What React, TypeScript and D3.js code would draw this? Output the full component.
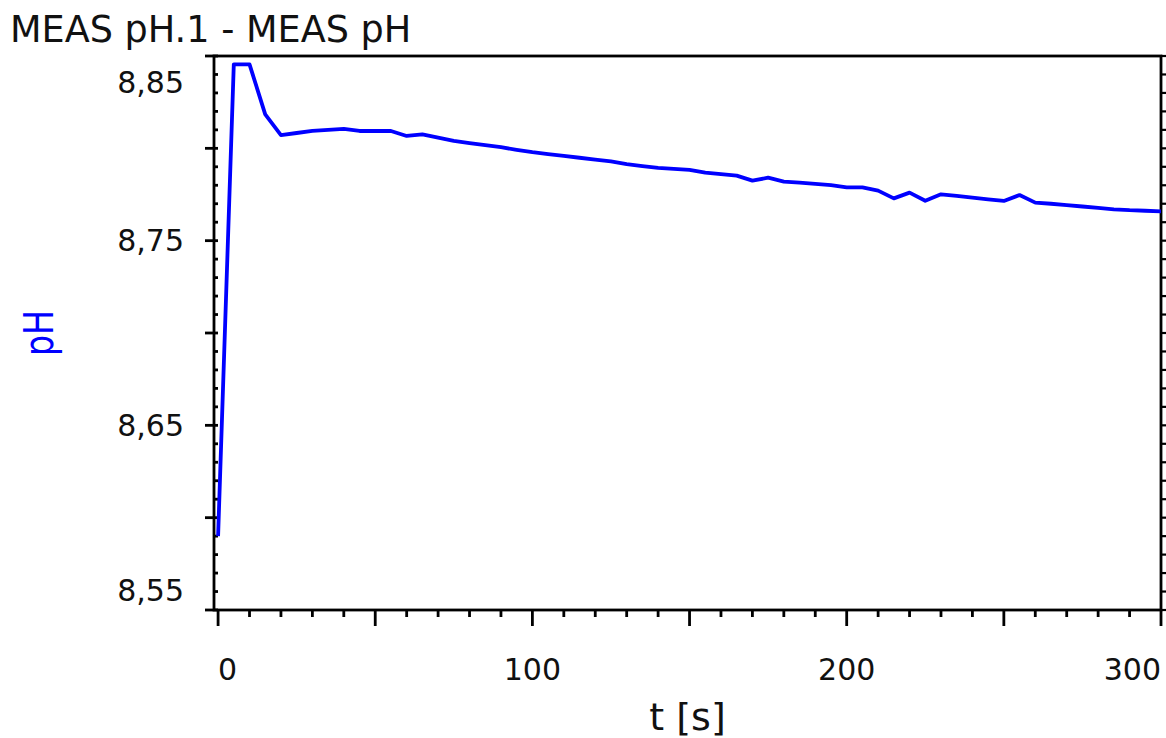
import React, { useEffect, useRef } from "react";
import * as d3 from "d3";

const times = [
  0, 5, 10, 15, 20, 25, 30, 35, 40, 45, 50, 55, 60, 65, 70, 75, 80, 85, 90, 95,
  100, 105, 110, 115, 120, 125, 130, 135, 140, 145, 150, 155, 160, 165, 170,
  175, 180, 185, 190, 195, 200, 205, 210, 215, 220, 225, 230, 235, 240, 245,
  250, 255, 260, 265, 270, 275, 280, 285, 290, 295, 300,
];

const phValues = [
  8.59, 8.8455, 8.8455, 8.8184, 8.8072, 8.8083, 8.8094, 8.81, 8.8105, 8.8094,
  8.8094, 8.8094, 8.8067, 8.8076, 8.8058, 8.804, 8.8028, 8.8017, 8.8006,
  8.7992, 8.7979, 8.7969, 8.7959, 8.7949, 8.7939, 8.7929, 8.7915, 8.7904,
  8.7894, 8.7889, 8.7883, 8.7868, 8.786, 8.7852, 8.7825, 8.7841, 8.782,
  8.7814, 8.7808, 8.7801, 8.7789, 8.7789, 8.7771, 8.7729, 8.776, 8.7716,
  8.7751, 8.7742, 8.7733, 8.7724, 8.7715, 8.7747, 8.7706, 8.77, 8.7693,
  8.7685, 8.7677, 8.767, 8.7665, 8.7662, 8.7659,
];

const yLabels = [8.55, 8.65, 8.75, 8.85];
const xLabels = [0, 100, 200, 300];

const title = "MEAS pH.1 - MEAS pH";
const xTitle = "t [s]";
const yTitle = "pH";

const FONT = "'DejaVu Sans', Verdana, sans-serif";

export default function App() {
  const svgRef = useRef<SVGSVGElement>(null);

  useEffect(() => {
    const width = 1166;
    const height = 738;
    const left = 214;
    const right = 1161;
    const top = 56;
    const bottom = 610;

    const svg = d3.select(svgRef.current);
    svg.selectAll("*").remove();
    svg.attr("width", width).attr("height", height);

    const x = d3.scaleLinear().domain([-1.3, 300]).range([left, right]);
    const y = d3.scaleLinear().domain([8.55, 8.85]).range([bottom, top]);

    // frame
    svg.append("rect")
      .attr("x", left)
      .attr("y", top)
      .attr("width", right - left)
      .attr("height", bottom - top)
      .attr("fill", "none")
      .attr("stroke", "#000")
      .attr("stroke-width", 2.8);

    // y ticks (left + right)
    const yMinor = d3.range(0, 31).map(i => 8.55 + i * 0.01);
    yMinor.forEach((v, i) => {
      const major = i % 5 === 0;
      svg.append("line")
        .attr("x1", major ? left - 9 : left)
        .attr("x2", left + 4)
        .attr("y1", y(v))
        .attr("y2", y(v))
        .attr("stroke", "#000")
        .attr("stroke-width", 2.8);
      svg.append("line")
        .attr("x1", right)
        .attr("x2", right + 5)
        .attr("y1", y(v))
        .attr("y2", y(v))
        .attr("stroke", "#000")
        .attr("stroke-width", 2.2);
    });

    // x ticks
    const xMinor = d3.range(0, 31).map(i => i * 10);
    xMinor.forEach(v => {
      const major = v % 50 === 0;
      svg.append("line")
        .attr("x1", x(v))
        .attr("x2", x(v))
        .attr("y1", bottom)
        .attr("y2", bottom + (major ? 16 : 7))
        .attr("stroke", "#000")
        .attr("stroke-width", 2.8);
    });

    const fmt = (v: number) => d3.format(".2f")(v).replace(".", ",");

    svg.selectAll(".ylab")
      .data(yLabels)
      .enter()
      .append("text")
      .attr("x", 184)
      .attr("y", d => Math.min(Math.max(y(d), top + 26), bottom - 20))
      .attr("dy", "0.36em")
      .attr("text-anchor", "end")
      .attr("font-family", FONT)
      .attr("font-size", 30)
      .attr("fill", "#111")
      .text(fmt);

    svg.selectAll(".xlab")
      .data(xLabels)
      .enter()
      .append("text")
      .attr("x", d => x(d))
      .attr("y", 680)
      .attr("text-anchor", (d, i) => (i === 0 ? "start" : i === xLabels.length - 1 ? "end" : "middle"))
      .attr("font-family", FONT)
      .attr("font-size", 30)
      .attr("fill", "#111")
      .text(d => String(d));

    // line
    const points = times.map((t, i) => [t, phValues[i]] as [number, number]);
    svg.append("path")
      .datum(points)
      .attr("fill", "none")
      .attr("stroke", "#0000ff")
      .attr("stroke-width", 3.8)
      .attr("stroke-linejoin", "round")
      .attr("d", d3.line<[number, number]>().x(d => x(d[0])).y(d => y(d[1])));

    svg.append("text")
      .attr("x", 10)
      .attr("y", 42)
      .attr("font-family", FONT)
      .attr("font-size", 36.6)
      .attr("fill", "#111")
      .text(title);

    svg.append("text")
      .attr("x", (left + right) / 2)
      .attr("y", 730)
      .attr("text-anchor", "middle")
      .attr("font-family", FONT)
      .attr("font-size", 38)
      .attr("fill", "#111")
      .text(xTitle);

    svg.append("text")
      .attr("transform", `translate(53,${(top + bottom) / 2}) rotate(-90) scale(0.81,1)`)
      .attr("text-anchor", "middle")
      .attr("font-family", FONT)
      .attr("font-size", 41)
      .attr("fill", "#0000ff")
      .text(yTitle);
  }, []);

  return (
    <div style={{ position: "absolute", left: 0, top: 0, background: "#fff" }}>
      <svg ref={svgRef} style={{ display: "block" }}></svg>
    </div>
  );
}
